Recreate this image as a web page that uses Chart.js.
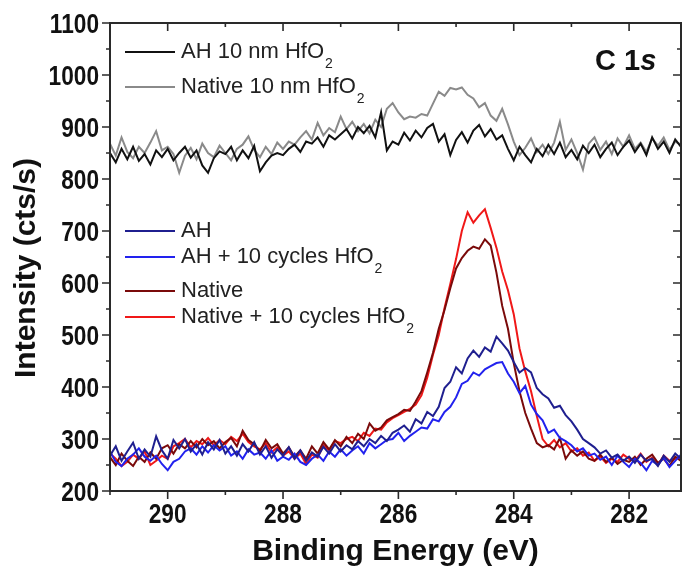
<!DOCTYPE html>
<html>
<head>
<meta charset="utf-8">
<script src="https://cdn.jsdelivr.net/npm/chart.js@4.4.1/dist/chart.umd.min.js"></script>
<style>
  html, body { margin: 0; padding: 0; background: #fff; }
  canvas { display: block; }
</style>
</head>
<body>
<canvas id="c1s" width="682" height="567"></canvas>
<script>
// binding energy grid (eV), high to low
const energy = [
  291.0, 290.9, 290.8, 290.7, 290.6, 290.5, 290.4, 290.3, 290.2, 290.1,
  290.0, 289.9, 289.8, 289.7, 289.6, 289.5, 289.4, 289.3, 289.2, 289.1,
  289.0, 288.9, 288.8, 288.7, 288.6, 288.5, 288.4, 288.3, 288.2, 288.1,
  288.0, 287.9, 287.8, 287.7, 287.6, 287.5, 287.4, 287.3, 287.2, 287.1,
  287.0, 286.9, 286.8, 286.7, 286.6, 286.5, 286.4, 286.3, 286.2, 286.1,
  286.0, 285.9, 285.8, 285.7, 285.6, 285.5, 285.4, 285.3, 285.2, 285.1,
  285.0, 284.9, 284.8, 284.7, 284.6, 284.5, 284.4, 284.3, 284.2, 284.1,
  284.0, 283.9, 283.8, 283.7, 283.6, 283.5, 283.4, 283.3, 283.2, 283.1,
  283.0, 282.9, 282.8, 282.7, 282.6, 282.5, 282.4, 282.3, 282.2, 282.1,
  282.0, 281.9, 281.8, 281.7, 281.6, 281.5, 281.4, 281.3, 281.2, 281.1
];

// counts per second
const ah10nm = [
  850, 832, 858, 838, 862, 835, 848, 828, 855, 842,
  858, 836, 850, 862, 841, 855, 826, 812, 840, 853,
  848, 862, 836, 855, 840, 864, 815, 832, 845, 850,
  846, 858, 866, 852, 872, 868, 880, 862, 884, 876,
  886, 896, 878, 900, 888, 902, 880, 928, 855, 872,
  866, 889, 874, 893, 880, 898, 906, 872, 886, 846,
  875, 890, 870, 893, 904, 882, 896, 876, 884, 858,
  836, 862, 846, 832, 858, 844, 866, 848, 870, 842,
  856, 838, 864, 850, 866, 842, 858, 870, 846, 862,
  874, 852, 868, 846, 880, 858, 872, 850, 876, 862
];
const native10nm = [
  868, 845, 880, 852, 840, 862, 850, 870, 892, 855,
  862, 848, 812, 845, 860, 838, 868, 850, 842, 864,
  850, 836, 858, 866, 882, 856, 842, 862, 848, 870,
  858, 872, 866, 880, 892, 876, 908, 884, 898, 890,
  920, 896, 910, 892, 906, 888, 914, 900, 935, 946,
  928, 915, 920, 918, 925, 922, 945, 968, 960, 975,
  972, 976, 962, 955, 938, 946, 922, 912, 935, 905,
  872, 846, 860, 878, 852, 866, 848, 870, 910, 856,
  876, 850, 818, 868, 880, 856, 872, 848, 878, 862,
  884, 858, 870, 852, 878, 864, 880, 856, 872, 866
];
const ah = [
  268, 286, 258, 276, 293, 262, 280, 266, 305, 278,
  262, 298, 282, 300, 276, 290, 270, 294, 280, 298,
  272, 286, 268, 290, 276, 294, 270, 286, 264, 280,
  268, 284, 262, 278, 258, 274, 266, 285, 272, 290,
  276, 288, 280, 296, 286, 300, 292, 306, 296, 312,
  318, 326, 314, 338, 330, 352, 344, 362, 398, 410,
  438, 426, 455, 470, 458, 476, 468, 497, 484, 470,
  448, 428, 436, 428, 398, 386, 378, 360, 364, 346,
  334, 318, 300, 292, 284, 272, 278, 264, 270, 258,
  266, 254, 270, 258, 262, 248, 268, 256, 272, 262
];
const ahCycles = [
  276, 256, 248, 262, 270, 282, 266, 258, 268, 252,
  240, 256, 262, 276, 282, 270, 286, 274, 288, 278,
  286, 268, 276, 262, 280, 270, 274, 262, 278, 258,
  266, 260, 272, 256, 250, 262, 270, 258, 276, 266,
  280, 268, 278, 286, 272, 292, 282, 290, 298, 300,
  312, 296, 306, 314, 322, 320, 338, 334, 352, 362,
  380, 406, 412, 428, 422, 434, 440, 446, 448, 426,
  410, 388, 402, 366, 348, 336, 312, 318, 302, 296,
  288, 276, 282, 268, 272, 260, 266, 250, 268, 256,
  246, 262, 254, 240, 258, 250, 264, 246, 258, 270
];
const native = [
  265, 250, 272, 258, 248, 266, 256, 274, 262, 282,
  288, 272, 290, 282, 296, 284, 300, 288, 296, 282,
  294, 302, 286, 316, 298, 290, 276, 298, 282, 290,
  272, 284, 266, 278, 262, 286, 272, 294, 280, 298,
  286, 304, 292, 310, 300, 330, 316, 322, 336, 342,
  348, 356, 354, 372, 392, 428, 466, 512, 548, 590,
  628, 648, 662, 670, 666, 684, 672, 620, 556, 512,
  446, 392, 350, 320, 292, 284, 288, 280, 302, 262,
  278, 268, 276, 262, 258, 270, 256, 264, 252, 260,
  256, 266, 250, 262, 270, 254, 262, 248, 266, 258
];
const nativeCycles = [
  272, 262, 248, 256, 270, 262, 276, 250, 258, 268,
  262, 286, 292, 300, 284, 296, 290, 302, 288, 298,
  290, 304, 296, 310, 294, 286, 280, 292, 274, 284,
  268, 276, 262, 272, 252, 270, 264, 288, 278, 296,
  292, 300, 304, 296, 312, 306, 320, 318, 332, 340,
  346, 352, 358, 366, 384, 418, 462, 500, 552, 598,
  646, 700, 736, 716, 730, 742, 706, 668, 622, 586,
  540, 474, 430, 392, 344, 300, 286, 298, 284, 292,
  276, 282, 268, 274, 258, 266, 254, 262, 256, 270,
  262, 258, 272, 256, 264, 250, 268, 258, 262, 266
];

const xTicksMajor = [290, 288, 286, 284, 282];

const FONT = '"Liberation Sans", Arial, Helvetica, sans-serif';

function series(values) {
  return energy.map((e, i) => ({ x: e, y: values[i] }));
}

function line(label, values, color) {
  return {
    label: label,
    data: series(values),
    borderColor: color,
    backgroundColor: color,
    borderWidth: 2,
    pointRadius: 0,
    tension: 0
  };
}

// condensed bold tick label, anchored at (x, baseline)
function squeezed(ctx, text, x, y, align) {
  ctx.save();
  ctx.font = 'bold 27px ' + FONT;
  ctx.textAlign = align;
  ctx.textBaseline = 'alphabetic';
  ctx.translate(x, y);
  ctx.scale(0.84, 1);
  ctx.fillText(text, 0, 0);
  ctx.restore();
}

// frame, tick marks, tick labels, legends and axis titles
const decor = {
  id: 'decor',
  afterDatasetsDraw(chart) {
    const ctx = chart.ctx;
    const a = chart.chartArea;
    const xs = chart.scales.x;
    const ys = chart.scales.y;
    ctx.save();
    ctx.strokeStyle = '#2a2a2a';
    ctx.lineWidth = 2;
    ctx.strokeRect(a.left, a.top, a.right - a.left, a.bottom - a.top);

    ctx.lineWidth = 1.6;
    ctx.beginPath();
    xs.ticks.forEach(t => {
      const px = xs.getPixelForValue(t.value);
      const major = xTicksMajor.includes(t.value);
      const len = major ? 8 : 4;
      ctx.moveTo(px, a.bottom); ctx.lineTo(px, a.bottom + len);
      ctx.moveTo(px, a.top); ctx.lineTo(px, a.top + len);
    });
    ys.ticks.forEach(t => {
      const py = ys.getPixelForValue(t.value);
      const len = t.value % 100 === 0 ? 8 : 4;
      ctx.moveTo(a.left, py); ctx.lineTo(a.left - len, py);
      ctx.moveTo(a.right, py); ctx.lineTo(a.right - len, py);
    });
    ctx.stroke();

    ctx.fillStyle = '#111';
    xs.ticks.forEach(t => {
      if (xTicksMajor.includes(t.value)) {
        squeezed(ctx, String(t.value), xs.getPixelForValue(t.value), a.bottom + 32, 'center');
      }
    });
    ys.ticks.forEach(t => {
      if (t.value % 100 === 0) {
        squeezed(ctx, String(t.value), a.left - 11, ys.getPixelForValue(t.value) + 10, 'right');
      }
    });

    // legends
    const drawEntry = (ds, y, sub) => {
      ctx.strokeStyle = ds.borderColor;
      ctx.lineWidth = 2;
      ctx.beginPath();
      ctx.moveTo(125, y); ctx.lineTo(175, y);
      ctx.stroke();
      ctx.fillStyle = '#222';
      ctx.font = '22px ' + FONT;
      ctx.textBaseline = 'middle';
      ctx.textAlign = 'left';
      const txt = sub ? ds.label.replace(/2$/, '') : ds.label;
      ctx.fillText(txt, 181, y);
      if (sub) {
        const w = ctx.measureText(txt).width;
        ctx.font = '14px ' + FONT;
        ctx.textBaseline = 'alphabetic';
        ctx.fillText('2', 181 + w + 1, y + 16);
      }
    };
    const d = chart.data.datasets;
    drawEntry(d[0], 52, true);
    drawEntry(d[1], 87, true);
    drawEntry(d[2], 231, false);
    drawEntry(d[3], 257, true);
    drawEntry(d[4], 291, false);
    drawEntry(d[5], 317, true);

    // core level label
    ctx.fillStyle = '#111';
    ctx.textBaseline = 'alphabetic';
    ctx.font = 'bold 29px ' + FONT;
    ctx.fillText('C 1', 595, 70);
    const cw = ctx.measureText('C 1').width;
    ctx.font = 'italic bold 29px ' + FONT;
    ctx.fillText('s', 595 + cw, 70);

    // axis titles
    ctx.font = 'bold 30px ' + FONT;
    ctx.textAlign = 'center';
    ctx.fillText('Binding Energy (eV)', (a.left + a.right) / 2, 560);
    ctx.translate(27, 268);
    ctx.rotate(-Math.PI / 2);
    ctx.textBaseline = 'middle';
    ctx.fillText('Intensity (cts/s)', 0, 0);
    ctx.restore();
  }
};

new Chart(document.getElementById('c1s'), {
  type: 'line',
  data: {
    datasets: [
      line('AH 10 nm HfO2', ah10nm, '#111111'),
      line('Native 10 nm HfO2', native10nm, '#8a8a8a'),
      line('AH', ah, '#1f1f8f'),
      line('AH + 10 cycles HfO2', ahCycles, '#2222ee'),
      line('Native', native, '#7a0a0a'),
      line('Native + 10 cycles HfO2', nativeCycles, '#f01818')
    ]
  },
  options: {
    responsive: false,
    devicePixelRatio: 1,
    animation: false,
    layout: { padding: { left: 0, top: 23, right: 1, bottom: 0 } },
    plugins: {
      legend: { display: false },
      tooltip: { enabled: false }
    },
    scales: {
      x: {
        type: 'linear',
        reverse: true,
        min: 281.1,
        max: 291.0,
        grid: { display: false, drawTicks: false },
        border: { display: false },
        ticks: { display: false, stepSize: 1, includeBounds: false, autoSkip: false },
        afterFit: s => { s.height = 76; }
      },
      y: {
        min: 200,
        max: 1100,
        grid: { display: false, drawTicks: false },
        border: { display: false },
        ticks: { display: false, stepSize: 50, autoSkip: false },
        afterFit: s => { s.width = 110; }
      }
    }
  },
  plugins: [decor]
});
</script>
</body>
</html>
